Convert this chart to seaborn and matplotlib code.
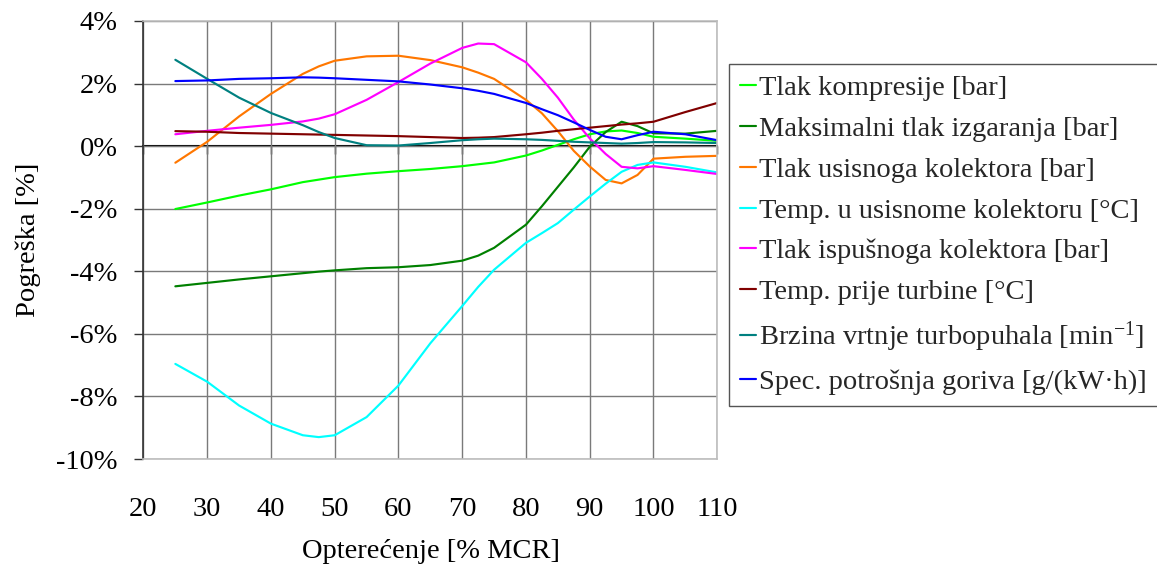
import matplotlib
matplotlib.use("Agg")
import matplotlib.pyplot as plt
from matplotlib.lines import Line2D
import numpy as np
import pandas as pd
import seaborn as sns

# Load (% MCR) at which every series is sampled
load = [25, 30, 35, 40, 45, 47.5, 50, 55, 60, 65, 70, 72.5, 75, 80,
        82.5, 85, 87.5, 90, 92.5, 95, 97.5, 100, 105, 110]

# Relative error [%] of each simulated quantity
tlak_kompresije = [-2.01, -1.80, -1.58, -1.38, -1.15, -1.07, -0.99, -0.88, -0.80, -0.73, -0.64, -0.58,
                   -0.52, -0.30, -0.14, 0.04, 0.22, 0.38, 0.47, 0.50, 0.42, 0.30, 0.24, 0.17]
max_tlak = [-4.48, -4.37, -4.26, -4.16, -4.06, -4.01, -3.97, -3.90, -3.87, -3.80, -3.66, -3.50,
            -3.25, -2.51, -1.92, -1.30, -0.68, -0.02, 0.45, 0.78, 0.64, 0.41, 0.40, 0.49]
tlak_usis = [-0.53, 0.14, 0.95, 1.67, 2.31, 2.55, 2.73, 2.87, 2.89, 2.75, 2.52, 2.35,
             2.15, 1.48, 1.05, 0.48, -0.15, -0.65, -1.08, -1.19, -0.92, -0.40, -0.34, -0.31]
temp_usis = [-6.96, -7.53, -8.29, -8.87, -9.24, -9.30, -9.24, -8.66, -7.65, -6.30, -5.11, -4.50,
             -3.95, -3.09, -2.78, -2.46, -2.03, -1.61, -1.20, -0.82, -0.60, -0.52, -0.66, -0.84]
tlak_ispuh = [0.38, 0.49, 0.59, 0.68, 0.79, 0.88, 1.02, 1.48, 2.05, 2.64, 3.14, 3.28,
              3.26, 2.68, 2.15, 1.55, 0.85, 0.25, -0.25, -0.66, -0.71, -0.64, -0.76, -0.89]
temp_turbina = [0.48, 0.46, 0.42, 0.40, 0.38, 0.37, 0.36, 0.34, 0.32, 0.29, 0.26, 0.27,
                0.29, 0.38, 0.43, 0.49, 0.54, 0.59, 0.64, 0.69, 0.73, 0.78, 1.09, 1.38]
brzina_tp = [2.76, 2.15, 1.55, 1.06, 0.67, 0.45, 0.26, 0.03, 0.02, 0.10, 0.19, 0.22,
             0.24, 0.22, 0.20, 0.17, 0.14, 0.12, 0.10, 0.08, 0.10, 0.13, 0.12, 0.10]
potrosnja = [2.08, 2.10, 2.15, 2.17, 2.20, 2.19, 2.17, 2.12, 2.07, 1.97, 1.85, 1.77,
             1.67, 1.38, 1.18, 0.99, 0.76, 0.52, 0.30, 0.22, 0.35, 0.46, 0.38, 0.19]

labels = [
    "Tlak kompresije [bar]",
    "Maksimalni tlak izgaranja [bar]",
    "Tlak usisnoga kolektora [bar]",
    "Temp. u usisnome kolektoru [°C]",
    "Tlak ispušnoga kolektora [bar]",
    "Temp. prije turbine [°C]",
    r"Brzina vrtnje turbopuhala [min$^{\mathregular{-1}}$]",
    "Spec. potrošnja goriva [g/(kW·h)]",
]
series = [tlak_kompresije, max_tlak, tlak_usis, temp_usis,
          tlak_ispuh, temp_turbina, brzina_tp, potrosnja]
colors = ["#00FF00", "#008000", "#FF7700", "#00FFFF",
          "#FF00FF", "#800000", "#008080", "#0000FF"]

x_ticks = [20, 30, 40, 50, 60, 70, 80, 90, 100, 110]
y_ticks = [-10, -8, -6, -4, -2, 0, 2, 4]
y_ticklabels = [f"{v}%" for v in y_ticks]

df = pd.concat(
    [pd.DataFrame({"load": load, "err": vals, "name": name})
     for name, vals in zip(labels, series)],
    ignore_index=True,
)

sns.set_theme(style="white")
plt.rcParams["font.family"] = ["Liberation Serif", "DejaVu Serif"]
plt.rcParams["mathtext.fontset"] = "custom"
plt.rcParams["mathtext.rm"] = "Liberation Serif"
plt.rcParams["mathtext.it"] = "Liberation Serif:italic"
plt.rcParams["mathtext.bf"] = "Liberation Serif:bold"

FS = 20.5
LW = 1.55

fig = plt.figure(figsize=(11.57, 5.66), dpi=100)
ax = fig.add_axes([0.1240, 0.1890, 0.4959, 0.7739])

sns.lineplot(data=df, x="load", y="err", hue="name", hue_order=labels,
             palette=dict(zip(labels, colors)), linewidth=LW,
             estimator=None, sort=False, legend=False, ax=ax)

ax.set_xlim(20, 110)
ax.set_ylim(-10, 4)
ax.set_xticks(x_ticks)
ax.set_xticklabels([str(v) for v in x_ticks])
ax.set_yticks(y_ticks)
ax.set_yticklabels(y_ticklabels)

ax.grid(True, color="#7a7a7a", linewidth=1.0)
ax.set_axisbelow(True)

ax.tick_params(axis="x", length=0, pad=27, labelsize=FS, labelcolor="black")
ax.tick_params(axis="y", length=6.5, width=1.0, direction="out", pad=12,
               labelsize=FS, color="#333333", labelcolor="black", left=True)

for side in ("top", "right", "bottom"):
    ax.spines[side].set_color("#bdbdbd")
    ax.spines[side].set_linewidth(1.2)
ax.spines["left"].set_color("#333333")
ax.spines["left"].set_linewidth(1.2)

# Horizontal axis line at 0 % with downward tick marks
zero_axis = ax.secondary_xaxis(10 / 14)
zero_axis.set_alignment("bottom")
zero_axis.set_xticks(x_ticks)
zero_axis.tick_params(axis="x", direction="out", length=6, width=1.0,
                      color="black", labelbottom=False, labeltop=False)
zero_axis.spines["bottom"].set_color("black")
zero_axis.spines["bottom"].set_linewidth(1.5)

ax.set_xlabel("Opterećenje [% MCR]", fontsize=FS, color="black")
ax.set_ylabel("Pogreška [%]", fontsize=FS, color="black")
ax.xaxis.set_label_coords(0.501, -0.182)
ax.yaxis.set_label_coords(-0.178, 0.5)

handles = [Line2D([0], [0], color=c, linewidth=LW) for c in colors]
leg = fig.legend(handles, labels, loc="upper left",
                 bbox_to_anchor=(729 / 1157, 1 - 64 / 566),
                 frameon=True, fancybox=False, edgecolor="#555555",
                 framealpha=1, fontsize=FS, handlelength=0.55,
                 handletextpad=0.1, labelspacing=0.52, borderpad=0.4,
                 borderaxespad=0)
leg.get_frame().set_linewidth(1.0)

fig.savefig("out.png", dpi=100)
